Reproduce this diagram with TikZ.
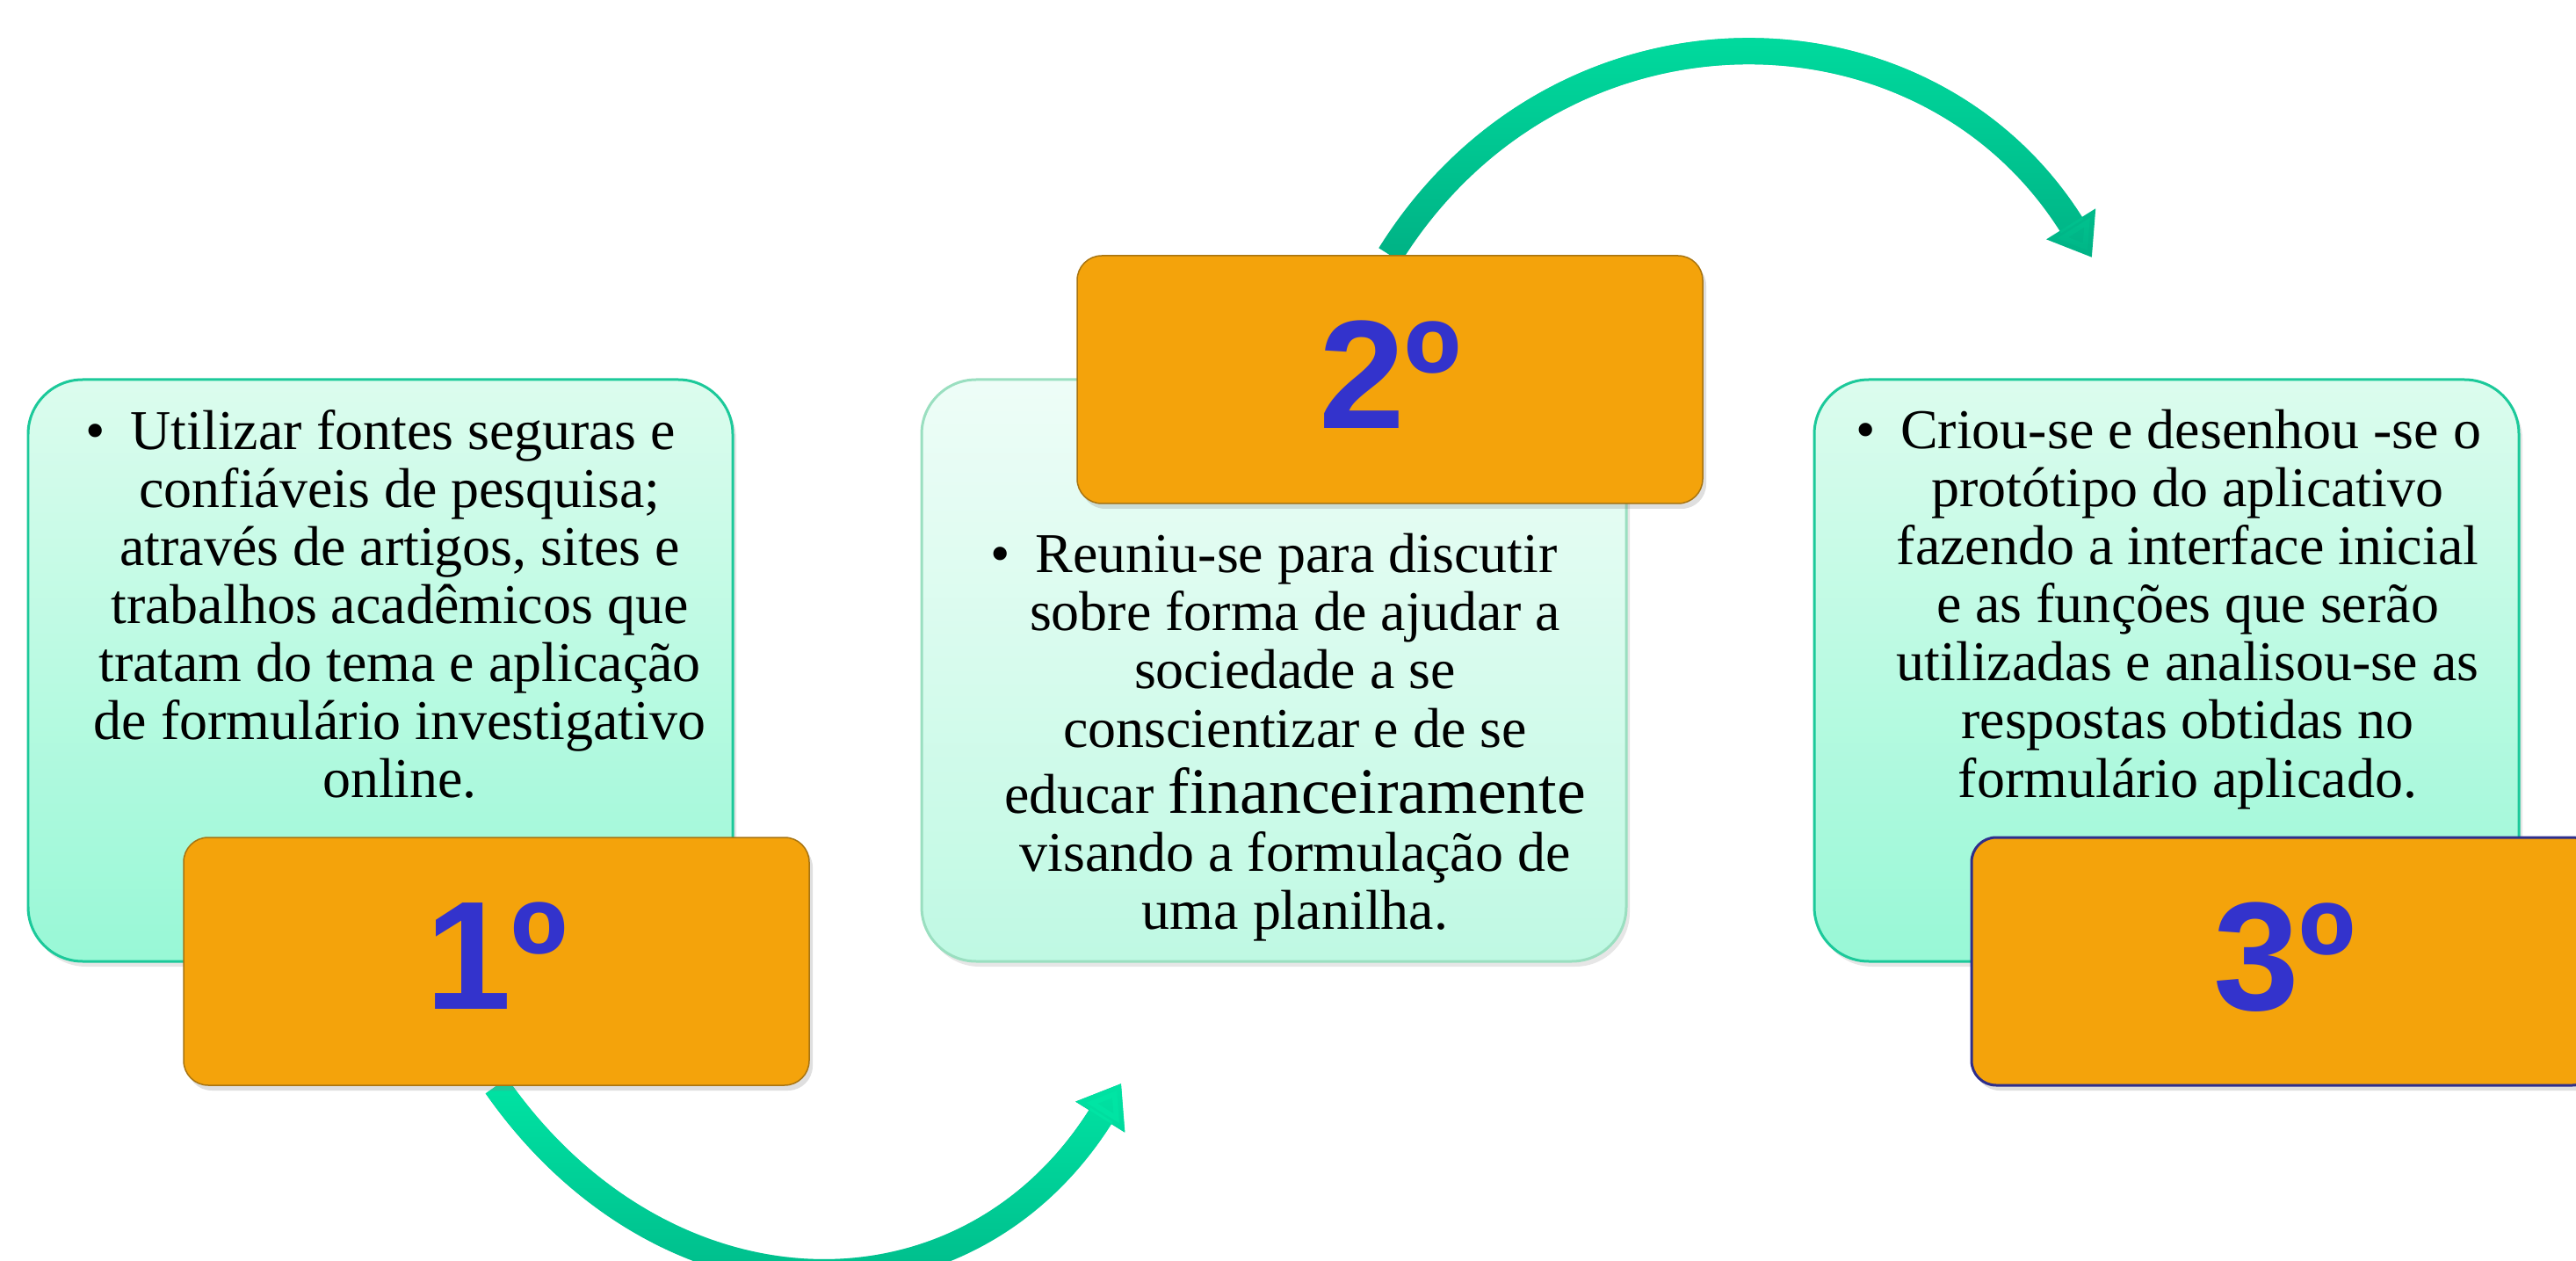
\documentclass[tikz,border=0pt]{standalone}
\usepackage{fontspec}
\setmainfont{Liberation Serif}
\newfontfamily\numfont{Liberation Sans}
\usetikzlibrary{arrows.meta, positioning, calc, shadows, fadings, backgrounds}

\definecolor{stepgreen}{HTML}{1CC99A}
\definecolor{steplight}{HTML}{DCFCEE}
\definecolor{stepmint}{HTML}{98F8D6}
\definecolor{paleborder}{HTML}{9ADFC0}
\definecolor{palelight}{HTML}{EEFDF7}
\definecolor{palemint}{HTML}{BFF9E3}
\definecolor{numorange}{HTML}{F4A30B}
\definecolor{numborder}{HTML}{A87410}
\definecolor{numblue}{HTML}{3333CC}
\definecolor{navyborder}{HTML}{2E2E8C}
\definecolor{flowlight}{HTML}{00E6A5}
\definecolor{flowdark}{HTML}{00B084}

\tikzfading[name=fadedown, top color=transparent!0, bottom color=transparent!100]

\begin{document}
\begin{tikzpicture}[
  textbox/.style={draw=stepgreen, line width=0.03cm, rounded corners=0.62cm, top color=steplight, bottom color=stepmint, minimum width=8.02cm, minimum height=6.62cm, inner sep=0pt, drop shadow={shadow xshift=0.04cm, shadow yshift=-0.06cm, opacity=0.2}},
  palebox/.style={textbox, draw=paleborder, top color=palelight, bottom color=palemint},
  numbox/.style={draw=numborder, line width=0.015cm, fill=numorange, rounded corners=0.28cm, minimum width=7.12cm, minimum height=2.82cm, inner sep=0pt, text depth=0.12cm, text=numblue, font=\numfont\bfseries\fontsize{50}{50}\selectfont, drop shadow={shadow xshift=0.04cm, shadow yshift=-0.06cm, opacity=0.25}},
  steptext/.style={align=center, inner sep=0pt, anchor=north, font=\fontsize{18.2}{18.8}\selectfont},
  flow/.style={line width=0.3cm, draw=flowdark, -{Triangle[length=0.45cm, width=0.63cm]}, postaction={draw=flowlight, path fading=fadedown}}
]
\useasboundingbox (0,0) rectangle (29.32,-14.35);

% Text boxes
\node[textbox] (g1) at (4.33,-7.63) {};
\node[palebox] (g2) at (14.50,-7.63) {};
\node[textbox] (g3) at (24.66,-7.63) {};

% Texts
\node[steptext] (t1) at ([xshift=0.22cm, yshift=-0.35cm]g1.north) {%
  •\hspace{0.45em}Utilizar fontes seguras e\rule{0.44cm}{0pt}\\
  confiáveis de pesquisa;\\
  através de artigos, sites e\\
  trabalhos acadêmicos que\\
  tratam do tema e aplicação\\
  de formulário investigativo\\
  online.};
\node[steptext] (t3) at ([xshift=0.24cm, yshift=-0.35cm]g3.north) {%
  •\hspace{0.45em}Criou-se e desenhou -se o\rule{0.44cm}{0pt}\\
  protótipo do aplicativo\\
  fazendo a interface inicial\\
  e as funções que serão\\
  utilizadas e analisou-se as\\
  respostas obtidas no\\
  formulário aplicado.};

% Number boxes
\node[numbox] (o1) at (5.65,-10.94) {1º};
\node[numbox] (o2) at (15.82,-4.32) {2º};
\node[numbox, draw=navyborder, line width=0.03cm] (o3) at (26.00,-10.94) {3º};

\node[steptext] (t2) at ($(g2.north |- o2.south)+(0.24,-0.33)$) {%
  •\hspace{0.45em}Reuniu-se para discutir\rule{0.48cm}{0pt}\\
  sobre forma de ajudar a\\
  sociedade a se\\
  conscientizar e de se\\[2.6pt]
  educar {\fontsize{21}{21.7}\selectfont financeiramente}\\
  visando a formulação de\\
  uma planilha.};

% Curved arrows
\coordinate (tip1) at (12.76,-12.33);
\coordinate (tip2) at (23.81,-2.93);
\begin{scope}[on background layer]
\draw[flow] (o1.south) to[out=-55, in=238, looseness=1.2] (tip1);
\draw[flow] (o2.north) to[out=58, in=122, looseness=1.15] (tip2);
\end{scope}

\end{tikzpicture}
\end{document}
